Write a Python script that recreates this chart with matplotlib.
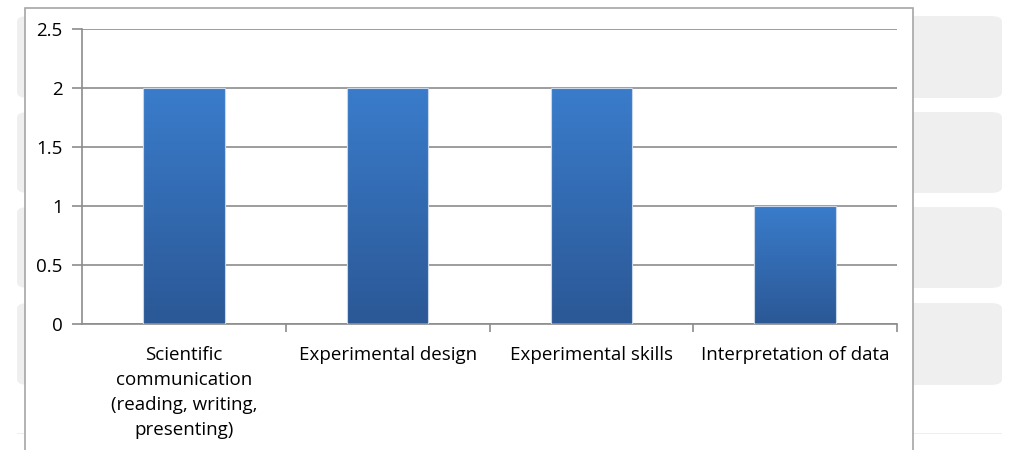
import numpy as np
import matplotlib
matplotlib.use("Agg")
import matplotlib.pyplot as plt
from matplotlib.patches import FancyBboxPatch, Rectangle
from matplotlib.colors import LinearSegmentedColormap

categories = ["Scientific\ncommunication\n(reading, writing,\npresenting)",
              "Experimental design", "Experimental skills",
              "Interpretation of data"]
values = [2, 2, 2, 1]
yticks = [0, 0.5, 1, 1.5, 2, 2.5]
ytick_labels = ["0", "0.5", "1", "1.5", "2", "2.5"]

plt.rcParams['font.family'] = ['Open Sans', 'DejaVu Sans']

W, H = 1010, 450
fig = plt.figure(figsize=(W / 100, H / 100), dpi=100)

# page background: grey rounded boxes behind the chart
def px_box(x0, y0, x1, y1, **kw):
    return FancyBboxPatch((x0 / W, 1 - y1 / H), (x1 - x0) / W, (y1 - y0) / H,
                          boxstyle="round,pad=0,rounding_size=0.012",
                          transform=fig.transFigure, zorder=-3, **kw)

for y0, y1 in [(16, 98), (112, 193), (207, 288), (303, 385)]:
    fig.patches.append(px_box(17, y0, 1002, y1, facecolor="#efefef", edgecolor="none"))
fig.patches.append(Rectangle((17 / W, 1 - 434 / H), 985 / W, 1.5 / H,
                             transform=fig.transFigure, facecolor="#eeeeee",
                             edgecolor="none", zorder=-3))

# white chart frame
fig.patches.append(Rectangle((25 / W, -0.05), (913 - 25) / W, 1.05 - 8 / H,
                             transform=fig.transFigure, facecolor="white",
                             edgecolor="#a6a6a6", linewidth=1.2, zorder=-2))

ax = fig.add_axes([82 / W, 126 / H, (897 - 82) / W, (324 - 29) / H])
ax.set_facecolor("none")

x = np.arange(len(categories))
bars = ax.bar(x, values, width=0.4, color="none", edgecolor="#c9d6e8",
              linewidth=0.8, zorder=3)

cmap = LinearSegmentedColormap.from_list("bar", ["#2b5896", "#3a7ccb"])
grad = np.linspace(0, 1, 256).reshape(-1, 1)
for b in bars:
    bx, bw, bh = b.get_x(), b.get_width(), b.get_height()
    im = ax.imshow(grad, cmap=cmap, origin="lower", aspect="auto",
                   extent=[bx, bx + bw, 0, bh], zorder=2)
    im.set_clip_path(b)

ax.set_xlim(-0.5, len(categories) - 0.5)
ax.set_ylim(0, 2.5)
ax.set_yticks(yticks)
ax.set_yticklabels(ytick_labels)
ax.yaxis.grid(True, color="#8c8c8c", linewidth=1.2)
ax.set_axisbelow(True)

ax.set_xticks(x)
ax.set_xticklabels(categories, linespacing=1.5)
ax.set_xticks(np.arange(len(categories)) + 0.5, minor=True)
ax.tick_params(axis="x", which="major", length=0, pad=16, labelsize=13.5, colors="#000000")
ax.tick_params(axis="x", which="minor", length=6, color="#8c8c8c", width=1.2)
ax.tick_params(axis="y", length=7, color="#8c8c8c", width=1.2, labelsize=13.5, pad=7)
for lab in ax.get_xticklabels():
    lab.set_verticalalignment("top")

for s in ["top", "right"]:
    ax.spines[s].set_visible(False)
for s in ["left", "bottom"]:
    ax.spines[s].set_color("#8c8c8c")
    ax.spines[s].set_linewidth(1.2)

fig.savefig("out.png", dpi=100)
